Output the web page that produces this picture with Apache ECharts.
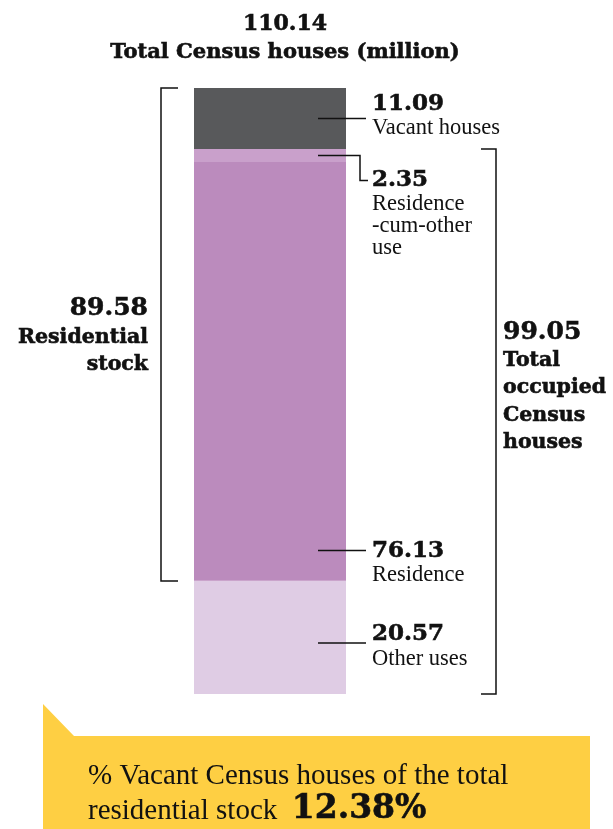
<!DOCTYPE html>
<html>
<head>
<meta charset="utf-8">
<script src="https://cdn.jsdelivr.net/npm/echarts@6/dist/echarts.min.js"></script>
<style>
    html, body { margin: 0; padding: 0; background: #fff; }
    #main { width: 613px; height: 829px; }
</style>
</head>
<body>
<div id="main"></div>
<script>
// data (million Census houses)
var categories = ['Census houses'];
var segNames = ['Other uses', 'Residence', 'Residence\n-cum-other\nuse', 'Vacant houses'];
var segValues = [20.57, 76.13, 2.35, 11.09];
var totalHouses = 110.14;
var residentialStock = 89.58;
var occupiedHouses = 99.05;

var segColors = ['#dfcce4', '#bb8bbd', '#c9a0cb', '#58595b'];

var NUM_FONT = 'DejaVu Serif';
var TXT_FONT = 'Liberation Serif';
var INK = '#111';

var myChart = echarts.init(document.getElementById('main'));

var temp_series = [];
for (var i = 0; i < segValues.length; i++) {
    temp_series.push({
        name: segNames[i],
        type: 'bar',
        stack: 'total',
        barWidth: '100%',
        silent: true,
        itemStyle: {color: segColors[i]},
        data: [segValues[i]]
    });
}

var option = {
    animation: false,
    grid: {left: 194, width: 152, top: 88, bottom: 135},
    xAxis: {type: 'category', data: categories, show: false},
    yAxis: {type: 'value', min: 0, max: totalHouses, show: false},
    series: temp_series
};
myChart.setOption(option);

// helpers -----------------------------------------------------------------
function py(v) {
    return myChart.convertToPixel({gridIndex: 0}, [0, v])[1];
}
function line(points) {
    return {type: 'polyline', z: 100, shape: {points: points}, style: {stroke: INK, lineWidth: 1.5, fill: null}, silent: true};
}
// a thin outline makes DejaVu bold look closer to the heavy serif of the original
var heavy = {fill: INK, stroke: INK, lineWidth: 0.6};
function richStyles() {
    return {
        num: Object.assign({fontFamily: NUM_FONT, fontWeight: 'bold', fontSize: 23, lineHeight: 27}, heavy),
        big: Object.assign({fontFamily: NUM_FONT, fontWeight: 'bold', fontSize: 25, lineHeight: 29}, heavy),
        bold: Object.assign({fontFamily: NUM_FONT, fontWeight: 'bold', fontSize: 20.5, lineHeight: 27.5}, heavy),
        txt: {fontFamily: TXT_FONT, fontSize: 22.5, lineHeight: 22, fill: INK}
    };
}
function label(x, y, text, align) {
    return {
        type: 'text', x: x, y: y, z: 100, silent: true,
        style: {text: text, align: align || 'left', verticalAlign: 'top', rich: richStyles()}
    };
}

var cum = [];
var acc = 0;
for (var k = 0; k < segValues.length; k++) { cum.push(acc); acc += segValues[k]; }

var gfx = [];

// title
gfx.push({
    type: 'text', x: 285, y: 10, z: 100, silent: true,
    style: {
        text: '{num|' + totalHouses.toFixed(2) + '}\n{t|Total Census houses (million)}',
        align: 'center', verticalAlign: 'top',
        rich: {
            num: Object.assign({fontFamily: NUM_FONT, fontWeight: 'bold', fontSize: 22, lineHeight: 29, align: 'center'}, heavy),
            t: Object.assign({fontFamily: NUM_FONT, fontWeight: 'bold', fontSize: 21, lineHeight: 27, align: 'center'}, heavy)
        }
    }
});

// leader lines + labels
var xIn = 318, xOut = 366, xTxt = 372;
// vacant
var yVac = py(cum[3] + segValues[3] / 2);
gfx.push(line([[xIn, yVac], [xOut, yVac]]));
gfx.push(label(xTxt, yVac - 28, '{num|' + segValues[3].toFixed(2) + '}\n{txt|Vacant houses}'));
// residence-cum-other
var yCum = py(cum[2] + segValues[2] / 2);
var yBend = yCum + 25;
gfx.push(line([[xIn, yCum], [360, yCum], [360, yBend], [xOut + 2, yBend]]));
gfx.push(label(xTxt, yBend - 14, '{num|' + segValues[2].toFixed(2) + '}\n{txt|Residence}\n{txt|-cum-other}\n{txt|use}'));
// residence
var yRes = py(cum[1] + 5.5);
gfx.push(line([[xIn, yRes], [xOut, yRes]]));
gfx.push(label(xTxt, yRes - 13, '{num|' + segValues[1].toFixed(2) + '}\n{txt|Residence}'));
// other uses
var yOth = py(cum[0] + segValues[0] / 2 - 1);
gfx.push(line([[xIn, yOth], [xOut, yOth]]));
gfx.push(label(xTxt, yOth - 22, '{num|' + segValues[0].toFixed(2) + '}\n{txt|Other uses}'));

// left bracket: residential stock (residence + cum + vacant)
var lbTop = py(totalHouses), lbBot = py(totalHouses - residentialStock);
gfx.push(line([[178, lbTop], [161, lbTop], [161, lbBot], [178, lbBot]]));
gfx.push(label(148, (lbTop + lbBot) / 2 - 40, '{big|' + residentialStock.toFixed(2) + '}\n{bold|Residential}\n{bold|stock}', 'right'));

// right bracket: total occupied
var rbTop = py(occupiedHouses), rbBot = py(0);
gfx.push(line([[481, rbTop], [496, rbTop], [496, rbBot], [481, rbBot]]));
gfx.push(label(503, (rbTop + rbBot) / 2 - 104, '{big|' + occupiedHouses.toFixed(2) + '}\n{bold|Total}\n{bold|occupied}\n{bold|Census}\n{bold|houses}'));

// yellow callout
var pctVacant = (segValues[3] / residentialStock * 100).toFixed(2) + '%';
gfx.push({
    type: 'polygon', silent: true,
    shape: {points: [[43, 704], [74, 736], [590, 736], [590, 829], [43, 829]]},
    style: {fill: '#fecf43'}
});
gfx.push({
    type: 'text', x: 88, y: 756, z: 100, silent: true,
    style: {
        text: '{t|% Vacant Census houses of the total}\n{t|residential stock  }{big|' + pctVacant + '}',
        align: 'left', verticalAlign: 'top',
        rich: {
            t: {fontFamily: TXT_FONT, fontSize: 29, lineHeight: 35, fill: INK, verticalAlign: 'bottom'},
            big: Object.assign({fontFamily: NUM_FONT, fontWeight: 'bold', fontSize: 33, lineHeight: 35, verticalAlign: 'bottom'}, heavy)
        }
    }
});

myChart.setOption({graphic: gfx});
</script>
</body>
</html>
